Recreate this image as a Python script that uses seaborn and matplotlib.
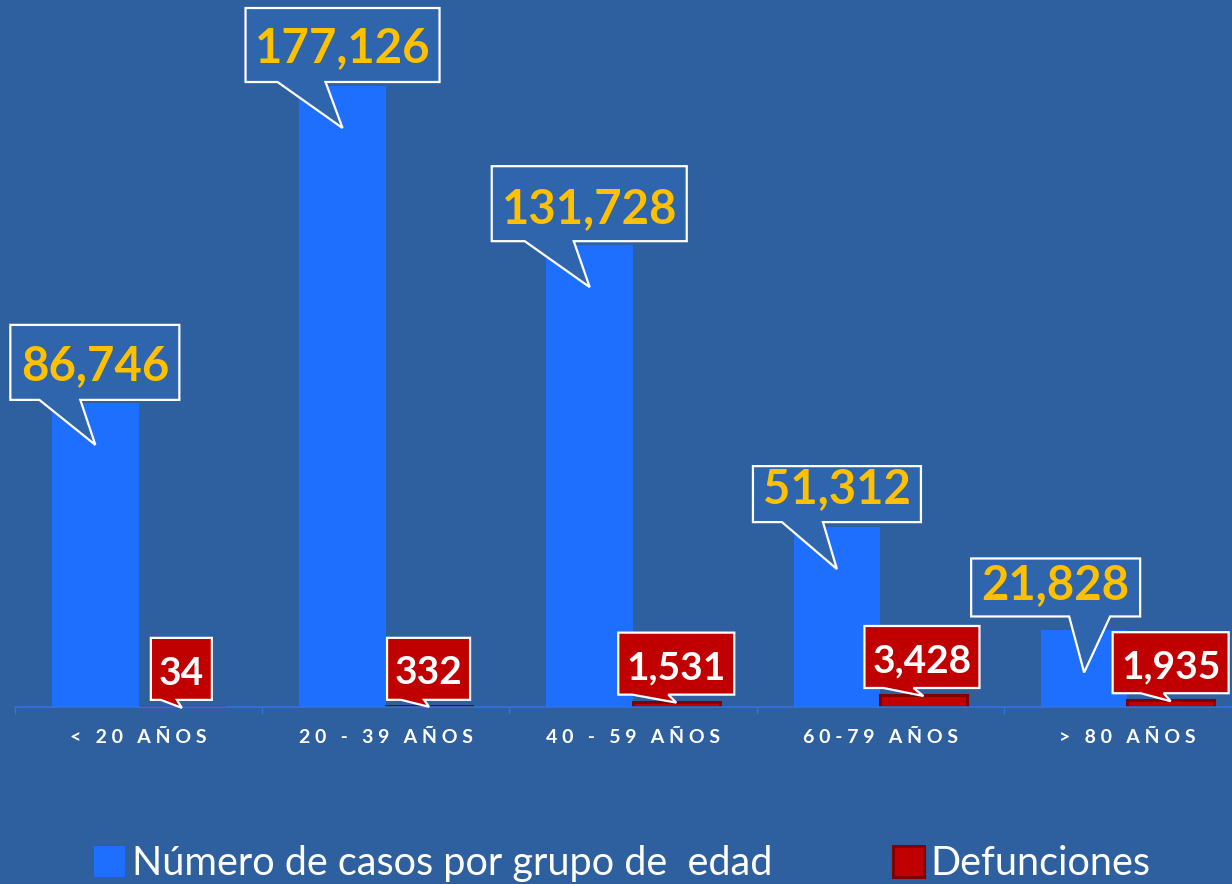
import numpy as np
import pandas as pd
import matplotlib.pyplot as plt
import seaborn as sns
from matplotlib.patches import Polygon
from matplotlib.transforms import IdentityTransform

# data
grupos = ['< 20 AÑOS', '20 - 39 AÑOS', '40 - 59 AÑOS', '60-79 AÑOS', '> 80 AÑOS']
casos = [86746, 177126, 131728, 51312, 21828]
defunciones = [34, 332, 1531, 3428, 1935]
serie_casos = 'Número de casos por grupo de  edad'
serie_def = 'Defunciones'

# colours
BG = '#2E5F9E'
BOX_BLUE = '#2F65AC'
BAR_BLUE = '#1F6FFF'
RED = '#C00000'
RED_EDGE = '#7F0000'
GOLD = '#FFC000'
AXIS = '#2F74E8'

# callout layout, pixels relative to the tip (y downward):
# left, right, top, bottom, tail left, tail right, text baseline
blue_layout = [
    (-85, 84, -120, -45, -56, -15, -65),
    (-97, 97, -120, -46, -65, -17, -65.5),
    (-98, 97, -121, -46, -65, -16, -64.5),
    (-84, 84, -103, -47, -55, -14, -65.5),
    (-113, 56, -114, -56, -15, 26, -73.5),
]
red_layout = [
    (-31, 30, -70, -8, -21, -5, -23),
    (-42, 41, -69, -7, -28, -5, -23),
    (-58, 58, -70, -8, -44, -8, -23),
    (-59, 56, -70, -8, -40, -10, -23),
    (-58, 58, -69, -8, -30, -7, -23),
]

W, H = 1232, 884
FONT = ['Lato', 'DejaVu Sans']


def callout(fig, tip, lay, face, text, color, size):
    tx, ty = tip
    l, r, t, b, ql, qr, base = lay
    # flip y offsets into display coordinates (y upward)
    verts = [(tx + l, ty - t), (tx + r, ty - t), (tx + r, ty - b), (tx + qr, ty - b),
             (tx, ty), (tx + ql, ty - b), (tx + l, ty - b)]
    poly = Polygon(verts, closed=True, facecolor=face, edgecolor='white', linewidth=1.6,
                   joinstyle='miter', transform=IdentityTransform(), zorder=5)
    fig.add_artist(poly)
    fig.text(tx + (l + r) / 2, ty - base, text, transform=IdentityTransform(),
             ha='center', va='baseline', color=color, fontsize=size, fontweight='bold',
             family=FONT, zorder=6)


def plot_casos_edad():
    df = pd.DataFrame({
        'grupo': grupos * 2,
        'valor': casos + defunciones,
        'serie': [serie_casos] * len(grupos) + [serie_def] * len(grupos),
    })

    plt.rcParams['font.family'] = FONT
    fig = plt.figure(figsize=(W / 100, H / 100), dpi=100, facecolor=BG)
    ax = fig.add_axes([15 / W, (H - 707) / H, 1236 / W, 707 / H])
    ax.set_facecolor(BG)

    sns.barplot(data=df, x='grupo', y='valor', hue='serie', order=grupos,
                hue_order=[serie_casos, serie_def], palette=[BAR_BLUE, RED],
                saturation=1, width=0.7, errorbar=None, legend=False, ax=ax, zorder=2)

    for p in ax.containers[0]:
        p.set_edgecolor('none')
        p.set_linewidth(0)
    for p in ax.containers[1]:
        p.set_edgecolor(RED_EDGE)
        p.set_linewidth(2.2)

    ax.set_xlim(-0.5, len(grupos) - 0.5)
    ax.set_ylim(0, 201660)
    ax.set_xlabel('')
    ax.set_ylabel('')
    ax.set_yticks([])
    for s in ['top', 'right', 'left']:
        ax.spines[s].set_visible(False)
    ax.spines['bottom'].set_color(AXIS)
    ax.spines['bottom'].set_linewidth(1.1)
    ax.set_xticks(np.arange(-0.5, len(grupos)), minor=True)
    ax.tick_params(axis='x', which='minor', length=5, width=1, color=AXIS, direction='out')
    ax.tick_params(axis='x', which='major', length=0, pad=16)
    ax.set_xticks(range(len(grupos)))
    # spread the letters like the original's character spacing
    ax.set_xticklabels([' '.join(g) for g in grupos], color='white',
                       fontsize=14, fontweight='bold')

    # callouts anchored on the bars through the data transform
    for p, v, lay in zip(ax.containers[0], casos, blue_layout):
        tx, ty = ax.transData.transform((p.get_x() + p.get_width() / 2, p.get_height()))
        callout(fig, (tx, ty - 42), lay, BOX_BLUE, f'{v:,}', GOLD, 34)
    for p, v, lay in zip(ax.containers[1], defunciones, red_layout):
        tx, ty = ax.transData.transform((p.get_x() + p.get_width() / 2, p.get_height()))
        callout(fig, (tx, ty - 1), lay, RED, f'{v:,}', 'white', 28)

    leg = fig.legend(ax.containers, [serie_casos, serie_def], loc='lower center',
                     bbox_to_anchor=(0.5053, -0.038), ncol=2, frameon=False,
                     fontsize=28.5, handlelength=0.77, handleheight=0.82,
                     handletextpad=0.18, columnspacing=3.05)
    for t in leg.get_texts():
        t.set_color('white')

    fig.savefig('out.png', dpi=100, facecolor=BG)
    plt.close(fig)


if __name__ == '__main__':
    plot_casos_edad()
